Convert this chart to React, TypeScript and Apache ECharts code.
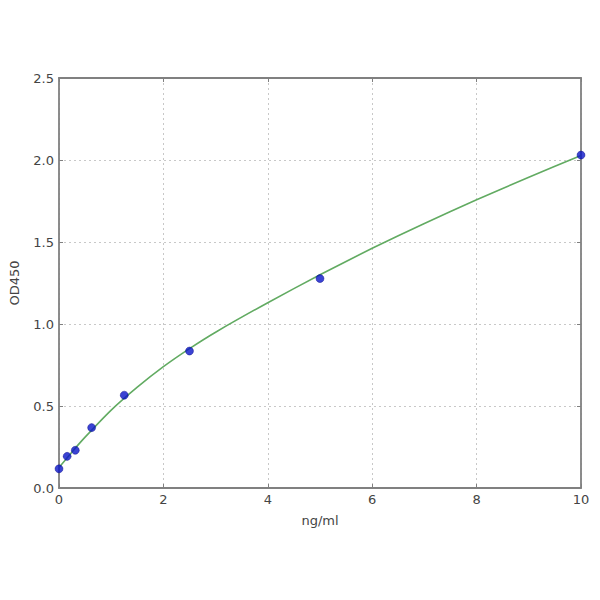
import React, { useEffect, useRef } from "react";
import * as echarts from "echarts";

const concentrations = [0, 0.156, 0.3125, 0.625, 1.25, 2.5, 5, 10];
const odValues = [0.117, 0.193, 0.23, 0.368, 0.566, 0.835, 1.277, 2.03];

const curveX = [0, 0.25, 0.5, 1, 1.5, 2, 2.5, 3, 4, 5, 6, 7, 8, 9, 10];
const curveY = [0.125, 0.22, 0.31, 0.475, 0.615, 0.74, 0.85, 0.95, 1.13, 1.3, 1.462, 1.613, 1.757, 1.895, 2.028];

const xTicks = [0, 2, 4, 6, 8, 10];
const yTicks = [0, 0.5, 1.0, 1.5, 2.0, 2.5];

export default function App() {
  const ref = useRef<HTMLDivElement>(null);
  useEffect(() => {
    if (!ref.current) return;
    const chart = echarts.init(ref.current, undefined, { renderer: "svg" });
    const font = "DejaVu Sans";
    const frameColor = "#808080";
    const tick = { show: true, inside: true, length: 4, lineStyle: { color: frameColor } };
    const line = { show: true, onZero: false, lineStyle: { color: frameColor, width: 1.8 } };
    const split = { show: true, lineStyle: { color: "#c8c8c8", type: [2, 3], width: 1 } };
    const label = { color: "#444", fontSize: 13, fontFamily: font, margin: 5 };
    chart.setOption({
      animation: false,
      backgroundColor: "#ffffff",
      grid: { left: 57, right: 19, top: 78, bottom: 112 },
      xAxis: [
        {
          type: "value",
          position: "bottom",
          min: xTicks[0],
          max: xTicks[xTicks.length - 1],
          interval: 2,
          name: "ng/ml",
          nameLocation: "middle",
          nameGap: 26,
          nameTextStyle: { color: "#444", fontSize: 13, fontFamily: font },
          axisLine: line,
          axisTick: tick,
          axisLabel: label,
          splitLine: split,
        },
        {
          type: "value",
          position: "top",
          min: xTicks[0],
          max: xTicks[xTicks.length - 1],
          interval: 2,
          axisLine: line,
          axisTick: tick,
          axisLabel: { show: false },
          splitLine: { show: false },
        },
      ],
      yAxis: [
        {
          type: "value",
          position: "left",
          min: yTicks[0],
          max: yTicks[yTicks.length - 1],
          interval: 0.5,
          name: "OD450",
          nameLocation: "middle",
          nameGap: 38,
          nameRotate: 90,
          nameTextStyle: { color: "#444", fontSize: 13, fontFamily: font },
          axisLine: line,
          axisTick: tick,
          axisLabel: { ...label, formatter: (v: number) => v.toFixed(1) },
          splitLine: split,
        },
        {
          type: "value",
          position: "right",
          min: yTicks[0],
          max: yTicks[yTicks.length - 1],
          interval: 0.5,
          axisLine: line,
          axisTick: tick,
          axisLabel: { show: false },
          splitLine: { show: false },
        },
      ],
      series: [
        {
          type: "line",
          data: curveX.map((x, i) => [x, curveY[i]]),
          smooth: 0.2,
          showSymbol: false,
          lineStyle: { color: "#62ab62", width: 1.6 },
          z: 2,
        },
        {
          type: "scatter",
          data: concentrations.map((x, i) => [x, odValues[i]]),
          symbol: "circle",
          symbolSize: 8,
          itemStyle: { color: "#0a14c8", borderColor: "#000080", borderWidth: 0.5 },
          z: 3,
        },
      ],
    });
    return () => chart.dispose();
  }, []);
  return <div ref={ref} style={{ width: 600, height: 600, marginLeft: -8, marginTop: -8 }} />;
}
